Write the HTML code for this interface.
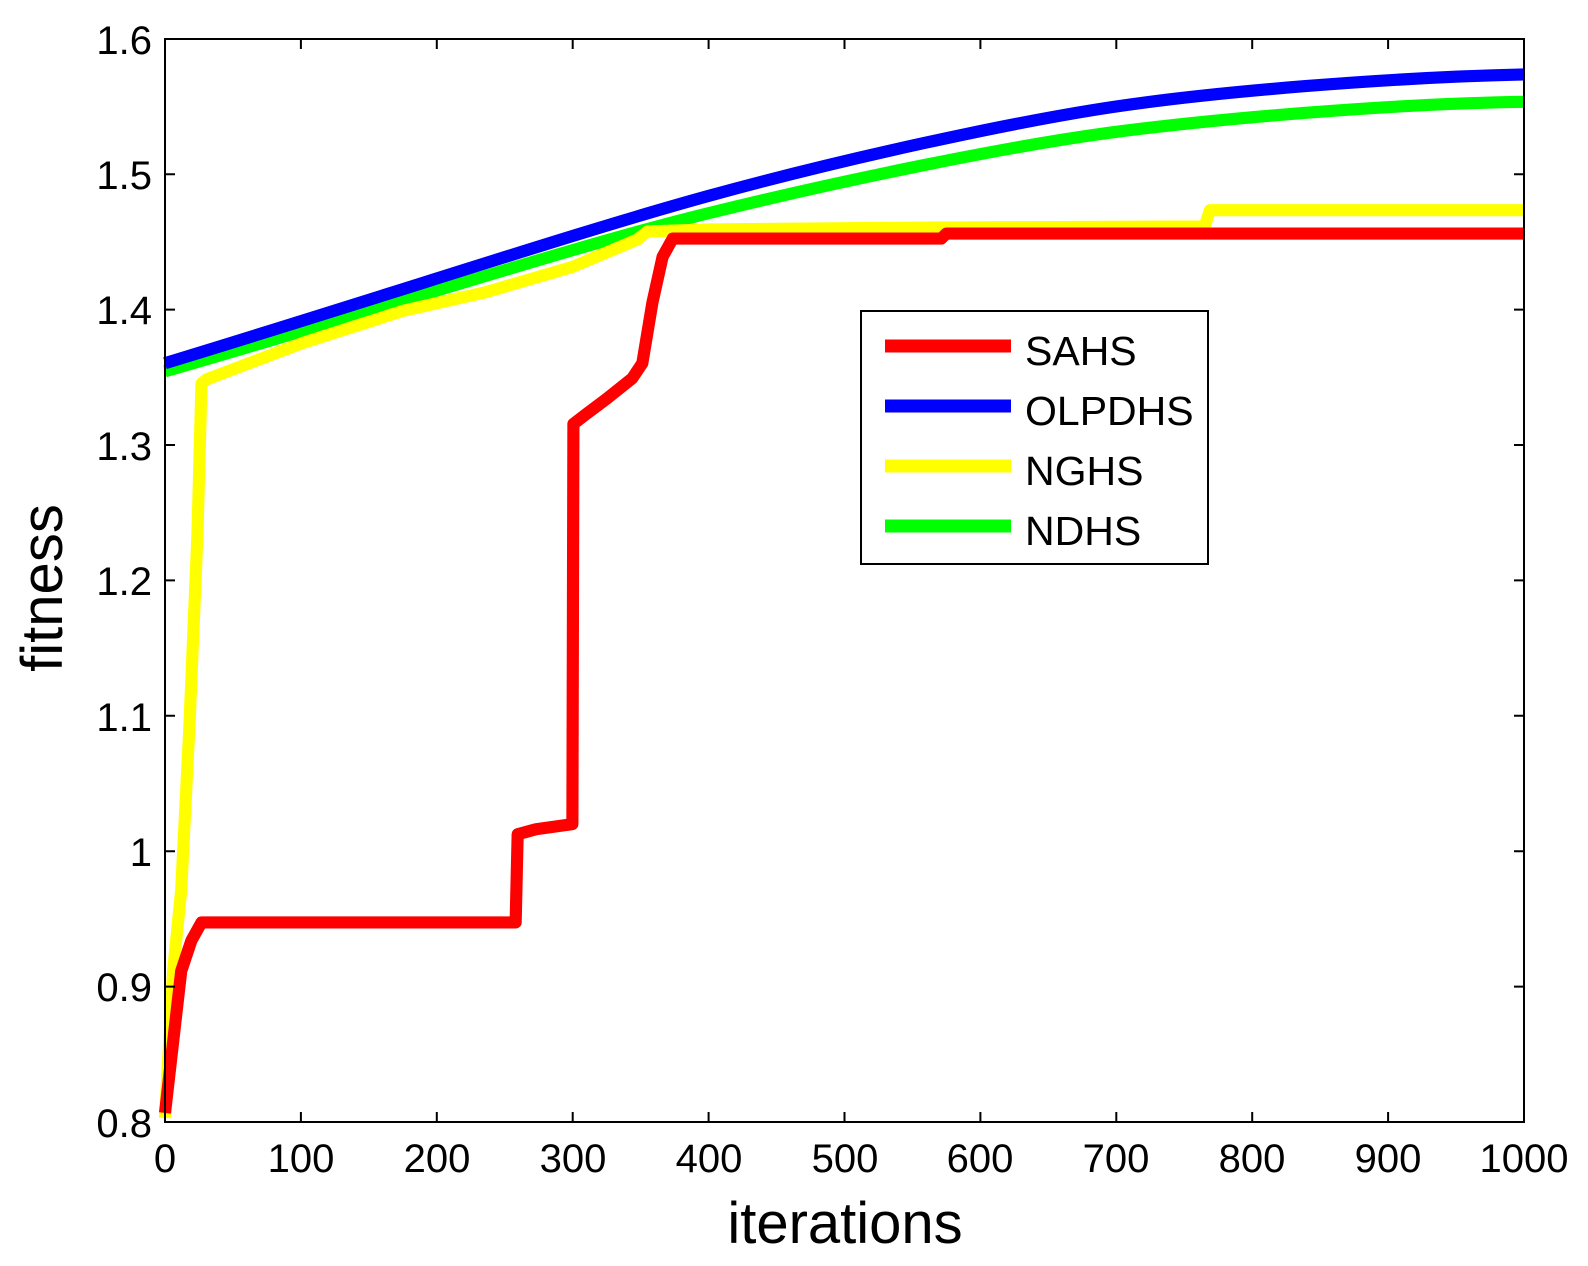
<!DOCTYPE html>
<html><head><style>body{margin:0;background:#fff}svg{display:block}</style></head><body>
<svg width="1588" height="1266" xmlns="http://www.w3.org/2000/svg" font-family="Liberation Sans, sans-serif">
<rect width="1588" height="1266" fill="#fff"/>
<g fill="none" stroke-linejoin="round" stroke-width="12" transform="matrix(1.01342 0 0 1.0131 -1.2 -1.52)">
<path stroke="#00ff00" d="M164,368 C400,300 566,245 700,212 S1000,145 1100,132 S1370,104 1505,102"/>
<path stroke="#0000ff" d="M164,360 C400,288 566,232 700,195 S1000,122 1100,107 S1370,78 1505,75"/>
<polyline stroke="#ffff00" points="164,1105 172,960 180,880 188,720 196,530 200,380 205,376 300,340 400,308 480,290 566,265 630,238 640,230 700,228 930,226 1190,225 1195,209 1505,209"/>
<polyline stroke="#ff0000" points="164,1100 172,1030 180,960 190,930 200,912 510,912 512,825 530,820 566,815 567,420 580,410 600,395 625,375 635,360 645,300 655,255 665,237 930,237 935,232 1505,232"/>
</g>
<g stroke="#000" stroke-width="2" fill="none">
<rect x="165" y="39" width="1359" height="1083"/>
<path d="M300.9,1122v-10M436.8,1122v-10M572.7,1122v-10M708.6,1122v-10M844.5,1122v-10M980.4,1122v-10M1116.3,1122v-10M1252.2,1122v-10M1388.1,1122v-10
M300.9,39v10M436.8,39v10M572.7,39v10M708.6,39v10M844.5,39v10M980.4,39v10M1116.3,39v10M1252.2,39v10M1388.1,39v10
M165,986.6h10M165,851.2h10M165,715.8h10M165,580.4h10M165,445h10M165,309.6h10M165,174.2h10
M1524,986.6h-10M1524,851.2h-10M1524,715.8h-10M1524,580.4h-10M1524,445h-10M1524,309.6h-10M1524,174.2h-10"/>
</g>
<g font-size="40" fill="#000" text-anchor="end">
<text x="152" y="1137">0.8</text><text x="152" y="1001">0.9</text><text x="152" y="866">1</text><text x="152" y="731">1.1</text><text x="152" y="595">1.2</text><text x="152" y="460">1.3</text><text x="152" y="324">1.4</text><text x="152" y="189">1.5</text><text x="152" y="54">1.6</text>
</g>
<g font-size="40" fill="#000" text-anchor="middle">
<text x="165" y="1172">0</text><text x="301" y="1172">100</text><text x="437" y="1172">200</text><text x="573" y="1172">300</text><text x="709" y="1172">400</text><text x="845" y="1172">500</text><text x="980" y="1172">600</text><text x="1116" y="1172">700</text><text x="1252" y="1172">800</text><text x="1388" y="1172">900</text><text x="1524" y="1172">1000</text>
</g>
<text x="845" y="1243" font-size="58" text-anchor="middle">iterations</text>
<text transform="translate(62,588) rotate(-90)" font-size="58" text-anchor="middle">fitness</text>
<rect x="861" y="311" width="347" height="253" fill="#fff" stroke="#000" stroke-width="2"/>
<g stroke-width="13">
<line x1="885" y1="346" x2="1011" y2="346" stroke="#ff0000"/>
<line x1="885" y1="406" x2="1011" y2="406" stroke="#0000ff"/>
<line x1="885" y1="466" x2="1011" y2="466" stroke="#ffff00"/>
<line x1="885" y1="526" x2="1011" y2="526" stroke="#00ff00"/>
</g>
<g font-size="41" fill="#000">
<text x="1025" y="365">SAHS</text><text x="1025" y="425">OLPDHS</text><text x="1025" y="485">NGHS</text><text x="1025" y="545">NDHS</text>
</g>
</svg>
</body></html>
